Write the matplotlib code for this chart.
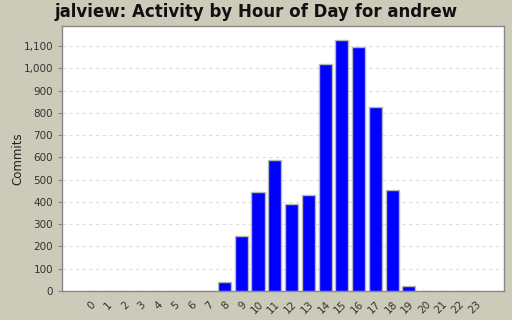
import matplotlib
matplotlib.use("Agg")
import matplotlib.pyplot as plt
from matplotlib.ticker import FuncFormatter, MultipleLocator

hours = [str(h) for h in range(24)]
commits = [0, 0, 0, 0, 0, 0, 0, 0, 39, 248, 446, 587, 389, 430,
           1021, 1128, 1097, 825, 455, 24, 0, 0, 0, 0]

BG = "#cccbb9"

fig = plt.figure(figsize=(5.12, 3.2), dpi=100)
fig.patch.set_facecolor(BG)
ax = fig.add_axes([62 / 512, 29 / 320, 442 / 512, 265 / 320])
ax.set_facecolor("white")

x = list(range(len(hours)))
ax.bar(x, commits, width=0.78, color="#0000ff", edgecolor="#b8b8b8",
       linewidth=1.0, zorder=3)

ax.set_xlim(-1.69, 24.67)
ax.set_ylim(0, 1190)
ax.yaxis.set_major_locator(MultipleLocator(100))
ax.yaxis.set_major_formatter(FuncFormatter(lambda v, p: f"{int(v):,}"))
ax.grid(axis="y", linestyle=(0, (3, 3)), color="#dedede", linewidth=0.8, zorder=0)

ax.set_xticks(x)
ax.set_xticklabels(hours, rotation=45, ha="right", rotation_mode="anchor")
ax.tick_params(axis="x", length=0, labelsize=7.5, pad=6, colors="#333333")
ax.tick_params(axis="y", length=3, labelsize=7.5, color="#888888", colors="#333333")

for sp in ax.spines.values():
    sp.set_color("#888888")
    sp.set_linewidth(1.0)

ax.set_ylabel("Commits", fontsize=8.5, color="#222222")
ax.yaxis.set_label_coords(-38 / 442, 0.5)
fig.text(0.5, 0.962, "jalview: Activity by Hour of Day for andrew",
         ha="center", va="center", fontsize=12, fontweight="bold", color="#111111")

fig.savefig("out.png", dpi=100, facecolor=fig.get_facecolor())
